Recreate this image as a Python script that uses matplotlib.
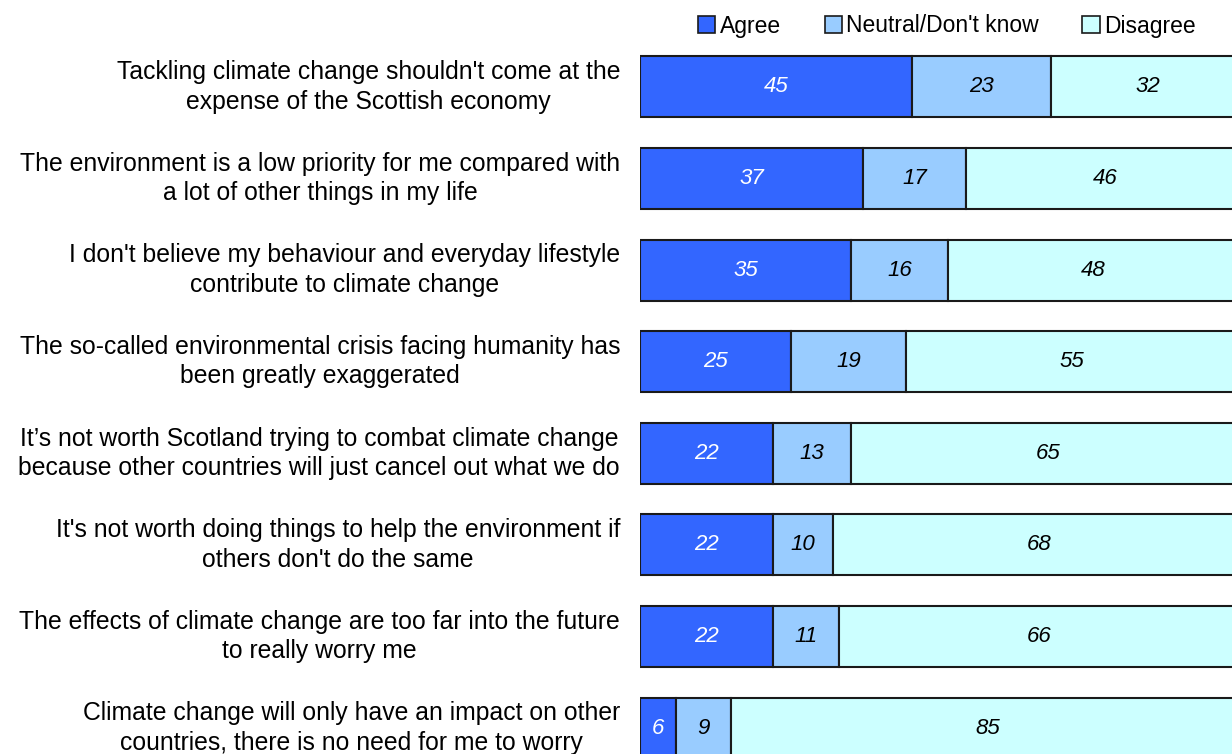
import matplotlib
matplotlib.use("Agg")
import matplotlib.pyplot as plt
from matplotlib.patches import Patch

statements = [
    "Tackling climate change shouldn't come at the\nexpense of the Scottish economy",
    "The environment is a low priority for me compared with\na lot of other things in my life",
    "I don't believe my behaviour and everyday lifestyle\ncontribute to climate change",
    "The so-called environmental crisis facing humanity has\nbeen greatly exaggerated",
    "It\u2019s not worth Scotland trying to combat climate change\nbecause other countries will just cancel out what we do",
    "It's not worth doing things to help the environment if\nothers don't do the same",
    "The effects of climate change are too far into the future\nto really worry me",
    "Climate change will only have an impact on other\ncountries, there is no need for me to worry",
]
agree = [45, 37, 35, 25, 22, 22, 22, 6]
neutral = [23, 17, 16, 19, 13, 10, 11, 9]
disagree = [32, 46, 48, 55, 65, 68, 66, 85]

series = [("Agree", agree, "#3366ff", "white"),
          ("Neutral/Don't know", neutral, "#99ccff", "black"),
          ("Disagree", disagree, "#ccffff", "black")]

plt.rcParams['font.family'] = ['Liberation Sans', 'DejaVu Sans']

fig = plt.figure(figsize=(12.32, 7.54), dpi=100)
ax = fig.add_axes([640 / 1232, 1 - 773.8 / 754, 604 / 1232, (773.8 - 41.2) / 754])

y = list(range(len(statements)))
left = [0] * len(statements)
for name, vals, color, tcolor in series:
    bars = ax.barh(y, vals, left=left, height=0.666, color=color,
                   edgecolor="#1a1a1a", linewidth=1.5, label=name)
    for b, v in zip(bars, vals):
        ax.text(b.get_x() + b.get_width() / 2, b.get_y() + b.get_height() / 2,
                str(v), ha="center", va="center", color=tcolor,
                fontsize=16, style="italic")
    left = [l + v for l, v in zip(left, vals)]

ax.set_xlim(0, 100)
ax.set_ylim(7.5, -0.5)
ax.axis("off")

for yi, s in zip(y, statements):
    ax.text(-3.3, yi, s, ha="right", va="center", fontsize=17.8,
            multialignment="center", linespacing=1.28)

handles = [Patch(facecolor=c, edgecolor="#1a1a1a", linewidth=1.2, label=n)
           for n, _, c, _ in series]
fig.legend(handles=handles, loc="center", bbox_to_anchor=(947 / 1232, 1 - 26 / 754),
           ncol=3, frameon=False, fontsize=16.5, handlelength=0.75, handleheight=0.75,
           handletextpad=0.2, columnspacing=1.9)

fig.savefig("out.png", dpi=100)
